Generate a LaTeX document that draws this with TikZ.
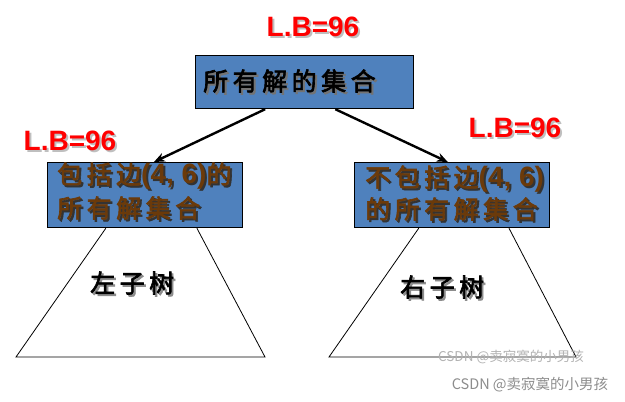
\documentclass[tikz,border=0pt]{standalone}
\usepackage{fontspec}
\setmainfont{Liberation Sans}
\newfontfamily\cjk[FakeBold=2.5,LetterSpace=18]{Noto Sans CJK SC}
\newfontfamily\cjkw{Noto Sans CJK SC}
\usetikzlibrary{arrows.meta,calc}
\definecolor{boxblue}{HTML}{4F81BD}
\definecolor{txtbrown}{HTML}{6B3A0A}
\definecolor{lbred}{HTML}{FF0000}
\newcommand\cj[1]{{\cjk\fontsize{25}{30}\selectfont #1}}
\newcommand\la[1]{{\bfseries\fontsize{28}{30}\selectfont #1}}
% text with a drop shadow: {shadow colour}{text colour}{content}
\newcommand\shad[3]{\rlap{\kern2pt\raisebox{-2pt}{\color{#1}#3}}{\color{#2}#3}}
\tikzset{
  bluebox/.style={draw=black, line width=1.2pt, fill=boxblue, inner sep=0, anchor=north west},
  txt/.style={inner sep=0, anchor=west, align=left},
  lb/.style={inner sep=0, font=\bfseries\fontsize{28}{30}\selectfont},
  arr/.style={line width=2.4pt, -{Stealth[length=11pt,width=9pt]}},
  tri/.style={line width=0.8pt},
  wm/.style={inner sep=0, font=\cjkw\fontsize{13.5}{16}\selectfont}
}
\begin{document}
\begin{tikzpicture}[x=1pt,y=-1pt]
\useasboundingbox (0,0) rectangle (625,402);
% boxes
\node[bluebox, minimum width=218, minimum height=53] (top) at (195,55) {};
\node[bluebox, minimum width=195, minimum height=65] (left) at (47,162) {};
\node[bluebox, minimum width=195, minimum height=65] (right) at (354,162) {};
% box texts
\node[txt] (toptxt) at (203,82) {\shad{black!55}{black}{\cj{所有解的集合}}};
\node[txt] (l1) at (57,177) {\shad{black!80}{txtbrown}{\cj{包括边}\la{(4, 6)}\cj{的}}};
\node[txt] (l2) at (57,209) {\shad{black!80}{txtbrown}{\cj{所有解集合}}};
\node[txt] (r1) at (365,180) {\shad{black!80}{txtbrown}{\cj{不包括边}\la{(4, 6)}}};
\node[txt] (r2) at (365,210) {\shad{black!80}{txtbrown}{\cj{的所有解集合}}};
% L.B labels
\node[lb] (lbt) at (313,28) {\shad{black!25}{lbred}{L.B=96}};
\node[lb] (lbl) at (70,142) {\shad{black!25}{lbred}{L.B=96}};
\node[lb] (lbr) at (515,129) {\shad{black!25}{lbred}{L.B=96}};
% arrows
\draw[arr] ($(top.south west)!0.32!(top.south east)$) -- ($(left.north west)!0.545!(left.north east)$);
\draw[arr] ($(top.south west)!0.64!(top.south east)$) -- ($(right.north west)!0.478!(right.north east)$);
% subtrees
\coordinate (lbl1) at (16,357);
\coordinate (lbr1) at (265,357);
\coordinate (rbl1) at (329,357);
\coordinate (rbr1) at (576,357);
\draw[tri] ($(left.south west)!0.30!(left.south east)$) -- (lbl1) -- (lbr1) -- ($(left.south west)!0.764!(left.south east)$);
\draw[tri] ($(right.south west)!0.33!(right.south east)$) -- (rbl1) -- (rbr1) -- ($(right.south west)!0.79!(right.south east)$);
\node[txt] (lt) at (90,284) {\shad{black!45}{black}{\cj{左子树}}};
\node[txt] (rt) at (400,288) {\shad{black!45}{black}{\cj{右子树}}};
% watermarks
\node[wm, text=black!30] (wm1) at (511,357) {CSDN @卖寂寞的小男孩};
\node[wm, text=black!45, font=\cjkw\fontsize{14.5}{17}\selectfont] (wm2) at (530,385) {CSDN @卖寂寞的小男孩};
\end{tikzpicture}
\end{document}
